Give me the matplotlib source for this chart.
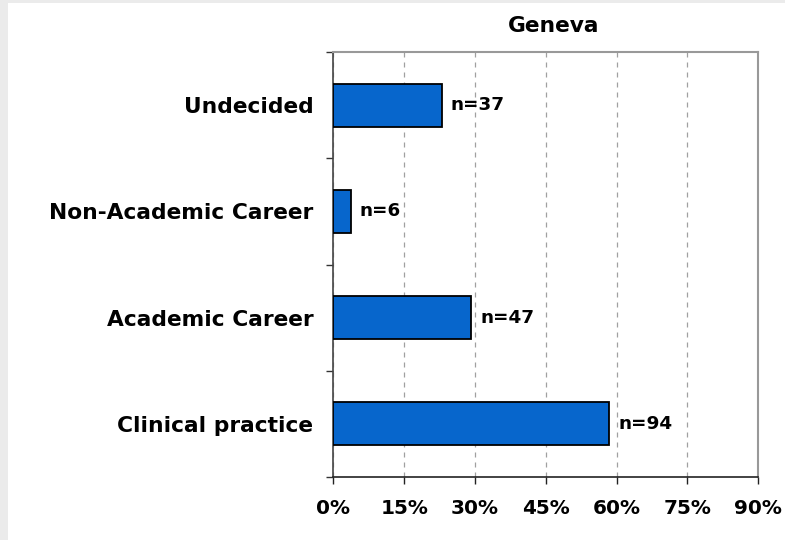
import matplotlib
matplotlib.use("Agg")
import matplotlib.pyplot as plt
from matplotlib.patches import Rectangle
from matplotlib.ticker import MultipleLocator, FixedLocator, FuncFormatter

# Data (bottom to top)
categories = ["Clinical practice", "Academic Career", "Non-Academic Career", "Undecided"]
percent = [58.4, 29.2, 3.7, 23.0]
counts = [94, 47, 6, 37]
title = "Geneva"
xticks = [0, 15, 30, 45, 60, 75, 90]

W, H = 785, 540
fig = plt.figure(figsize=(W / 100, H / 100), dpi=100)
fig.patch.set_facecolor("#ebebeb")
fig.add_artist(Rectangle((8 / W, 0), 1, 1 - 3 / H, transform=fig.transFigure,
                         facecolor="white", edgecolor="none", zorder=0))

font = "DejaVu Sans"
ax = fig.add_axes([333.3 / W, 1 - 476.7 / H, (758.3 - 333.3) / W, (476.7 - 52.3) / H])
ax.set_facecolor("white")

ypos = list(range(len(categories)))
ax.barh(ypos, percent, height=0.4, color="#0766CC", edgecolor="black",
        linewidth=1.3, zorder=3)

for y, v, n in zip(ypos, percent, counts):
    ax.annotate(f"n={n}", xy=(v, y), xytext=(9, 0), textcoords="offset pixels",
                ha="left", va="center", fontsize=13.2, fontweight="bold",
                family=font, color="black", zorder=4)

ax.set_xlim(0, 90)
ax.set_ylim(-0.5, len(categories) - 0.5)
ax.xaxis.set_major_locator(FixedLocator(xticks))
ax.xaxis.set_major_formatter(FuncFormatter(lambda v, p: f"{int(round(v))}%"))
ax.set_yticks(ypos)
ax.set_yticklabels(categories)
ax.yaxis.set_minor_locator(FixedLocator([i - 0.5 for i in range(len(categories) + 1)]))

for lab in ax.get_yticklabels():
    lab.set_fontsize(15.7)
    lab.set_fontweight("bold")
    lab.set_family(font)
for lab in ax.get_xticklabels():
    lab.set_fontsize(14.4)
    lab.set_fontweight("bold")
    lab.set_family(font)

ax.tick_params(axis="y", which="major", length=0, pad=14.4)
ax.tick_params(axis="y", which="minor", length=5, width=1, color="#333333", direction="out")
ax.tick_params(axis="x", which="major", length=4.8, width=1, color="#222222", pad=11.5)

ax.grid(axis="x", which="major", linestyle=(0, (4, 4)), color="#a0a0a0", linewidth=0.9, zorder=1)
ax.grid(axis="y", visible=False)

ax.spines["top"].set_color("#999999")
ax.spines["top"].set_linewidth(1.5)
ax.spines["right"].set_color("#999999")
ax.spines["right"].set_linewidth(1.5)
ax.spines["left"].set_color("#444444")
ax.spines["left"].set_linewidth(1.2)
ax.spines["bottom"].set_color("#222222")
ax.spines["bottom"].set_linewidth(1.2)

fig.text(554 / W, 1 - 25.5 / H, title, ha="center", va="center", fontsize=15.7,
         fontweight="bold", family=font)

fig.savefig("out.png", dpi=100, facecolor=fig.get_facecolor())
